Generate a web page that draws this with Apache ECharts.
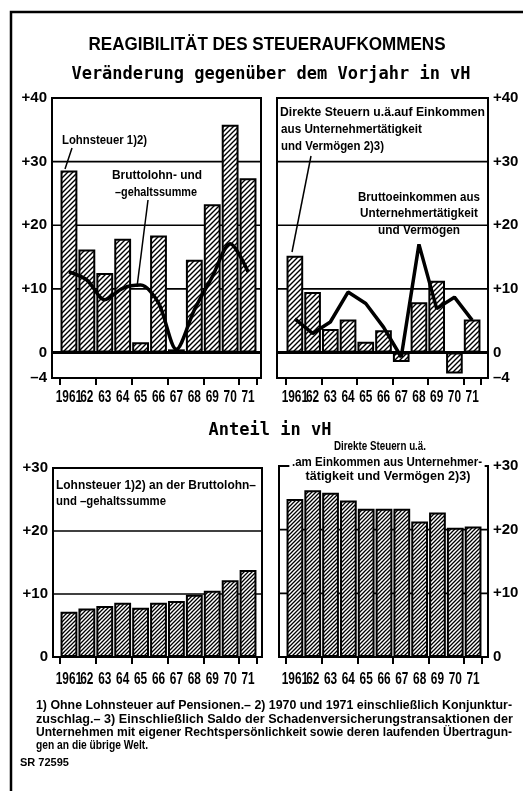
<!DOCTYPE html>
<html>
<head>
<meta charset="utf-8">
<script src="https://cdn.jsdelivr.net/npm/echarts@6/dist/echarts.min.js"></script>
<style>
  html, body { margin: 0; padding: 0; background: #fff; }
  #main { width: 523px; height: 791px; }
</style>
</head>
<body>
<div id="main"></div>
<script>
// Werte (vH)
var years = ['1961', '62', '63', '64', '65', '66', '67', '68', '69', '70', '71'];
var lohnsteuerChange = [28.6, 16.2, 12.5, 17.9, 1.6, 18.4, 0.5, 14.6, 23.3, 35.8, 27.4];
var bruttolohnChange = [12.7, 11.4, 8.3, 10.1, 10.6, 7.8, 0.5, 6.7, 11.9, 17.1, 12.7];
var direkteSteuernChange = [15.2, 9.5, 3.7, 5.2, 1.7, 3.5, -1.5, 7.9, 11.3, -3.3, 5.2];
var bruttoeinkommenChange = [5.3, 3.0, 4.8, 9.5, 7.7, 4.0, -0.7, 17.0, 6.9, 8.7, 5.1];
var lohnsteuerAnteil = [7.2, 7.7, 8.1, 8.6, 7.8, 8.6, 8.9, 9.9, 10.5, 12.2, 13.8];
var direkteSteuernAnteil = [24.8, 26.2, 25.8, 24.6, 23.3, 23.3, 23.3, 21.3, 22.7, 20.3, 20.5];
var changeTicks = [-4, 0, 10, 20, 30, 40];
var shareTicks = [0, 10, 20, 30];
var changeGridLines = [0, 10, 20, 30];
var shareGridLines = [10, 20];

var SANS = "'Liberation Sans', Arial, sans-serif";

// Panels: Rahmen (box) und Kategorienbereich (data)
var panels = [
  { box: [52, 98, 209, 280], data: [60, 197], min: -4, max: 40, ticks: changeTicks, lines: changeGridLines, side: 'left', lab: 20 },
  { box: [277, 98, 211, 280], data: [286, 195], min: -4, max: 40, ticks: changeTicks, lines: changeGridLines, side: 'right', lab: 20 },
  { box: [53, 468, 209, 189], data: [60, 197], min: 0, max: 30, ticks: shareTicks, lines: shareGridLines, side: 'left', lab: 23 },
  { box: [279, 466, 209, 191], data: [286, 196], min: 0, max: 30, ticks: shareTicks, lines: shareGridLines, side: 'right', lab: 23 }
];

function hatch(step, lw) {
  var c = document.createElement('canvas');
  c.width = c.height = step;
  var g = c.getContext('2d');
  g.fillStyle = '#fff';
  g.fillRect(0, 0, step, step);
  g.strokeStyle = '#000';
  g.lineWidth = lw;
  g.beginPath();
  g.moveTo(0, step); g.lineTo(step, 0);
  g.moveTo(-step / 2, step / 2); g.lineTo(step / 2, -step / 2);
  g.moveTo(step / 2, step * 1.5); g.lineTo(step * 1.5, step / 2);
  g.stroke();
  return c;
}
var hatchTop = { image: hatch(5, 1.4), repeat: 'repeat' };
var hatchBottom = { image: hatch(4, 1.3), repeat: 'repeat' };

var grid = [], xAxis = [], yAxis = [], series = [];

panels.forEach(function (p, i) {
  grid.push({ left: p.box[0], top: p.box[1], width: p.box[2], height: p.box[3],
    show: true, borderColor: '#000', borderWidth: 2, backgroundColor: 'transparent' });
  xAxis.push({ gridIndex: i, type: 'value', min: 0, max: 1, show: false });
  yAxis.push({
    gridIndex: i, type: 'value', min: p.min, max: p.max, interval: 2, position: p.side,
    axisLine: { show: false }, axisTick: { show: false }, splitLine: { show: false },
    axisLabel: {
      margin: 5, color: '#000', fontWeight: 'bold', fontSize: 15, fontFamily: SANS,
      formatter: function (v) {
        if (p.ticks.indexOf(v) < 0) return '';
        if (v > 0) return '+' + v;
        if (v < 0) return '\u2013' + Math.abs(v);
        return '0';
      }
    }
  });
  // Gitterlinien
  var gl = p.lines.map(function (v) { return [0, v, v === 0 ? 3 : 1.6]; });
  series.push({
    type: 'custom', xAxisIndex: i, yAxisIndex: i, z: 1, silent: true,
    renderItem: function (params, api) {
      var cs = params.coordSys;
      var y = api.coord([0, api.value(1)])[1];
      return { type: 'line', shape: { x1: cs.x, y1: y, x2: cs.x + cs.width, y2: y },
        style: { stroke: '#000', lineWidth: api.value(2) } };
    },
    data: gl
  });
});

panels.forEach(function (p, i) {
  var k = i + 4;
  grid.push({ left: p.data[0], top: p.box[1], width: p.data[1], height: p.box[3] });
  xAxis.push({
    gridIndex: k, type: 'category', data: years, position: 'bottom',
    axisLine: { show: false, onZero: false },
    axisTick: { show: true, length: 7, lineStyle: { color: '#000', width: 2 } },
    axisLabel: { show: false }
  });
  yAxis.push({ gridIndex: k, type: 'value', min: p.min, max: p.max, show: false, splitLine: { show: false } });
  // schmale Jahresbeschriftung
  series.push({
    type: 'custom', xAxisIndex: k, yAxisIndex: k, z: 3, silent: true,
    renderItem: function (params, api) {
      var pt = api.coord([api.value(0), p.min]);
      return { type: 'text', x: pt[0], y: pt[1] + p.lab, scaleX: 0.74,
        style: { text: years[params.dataIndex], font: 'bold 16px ' + SANS, fill: '#000',
          textAlign: 'center', textVerticalAlign: 'middle' } };
    },
    data: years.map(function (y) { return [y, p.min]; })
  });
});

function bars(idx, data, fill) {
  return {
    type: 'bar', xAxisIndex: idx, yAxisIndex: idx, z: 2, data: data, barCategoryGap: '6%',
    itemStyle: { color: fill, borderColor: '#000', borderWidth: 2 }
  };
}
function line(idx, data, smooth) {
  return {
    type: 'line', xAxisIndex: idx, yAxisIndex: idx, z: 3, data: data, smooth: smooth,
    symbol: 'none', lineStyle: { color: '#000', width: 3.5 }
  };
}
series.push(bars(4, lohnsteuerChange, hatchTop));
series.push(line(4, bruttolohnChange, 0.3));
series.push(bars(5, direkteSteuernChange, hatchTop));
series.push(line(5, bruttoeinkommenChange, false));
series.push(bars(6, lohnsteuerAnteil, hatchBottom));
series.push(bars(7, direkteSteuernAnteil, hatchBottom));

// Text auf Breite stauchen (schmale Schrift des Originals)
var mctx = document.createElement('canvas').getContext('2d');
function txt(x, y, s, size, align, width, extra) {
  var font = 'bold ' + size + 'px ' + SANS;
  mctx.font = font;
  var sx = Math.min(1, width / mctx.measureText(s).width);
  var st = { text: s, font: font, fill: '#000', textAlign: align, textVerticalAlign: 'middle' };
  if (extra) for (var key in extra) st[key] = extra[key];
  return { type: 'text', x: x, y: y, scaleX: sx, z: 100, style: st };
}
function seg(x1, y1, x2, y2, w) {
  return { type: 'line', z: 100, shape: { x1: x1, y1: y1, x2: x2, y2: y2 }, style: { stroke: '#000', lineWidth: w || 1.5 } };
}
var MONO = 'bold 17px "DejaVu Sans Mono", monospace';

var graphic = [
  { type: 'polyline', z: 100, shape: { points: [[11, 791], [11, 12], [523, 12]] }, style: { stroke: '#000', lineWidth: 2.5, fill: null } },
  txt(267, 45, 'REAGIBILITÄT DES STEUERAUFKOMMENS', 19, 'center', 357),
  { type: 'text', x: 271, y: 75, z: 100, style: { text: 'Veränderung gegenüber dem Vorjahr in vH', font: MONO, fill: '#000', textAlign: 'center', textVerticalAlign: 'middle' } },
  { type: 'text', x: 270, y: 431, z: 100, style: { text: 'Anteil in vH', font: MONO, fill: '#000', textAlign: 'center', textVerticalAlign: 'middle' } },
  // oben links
  txt(62, 140, 'Lohnsteuer 1)2)', 13, 'left', 85),
  seg(72, 148, 65, 169),
  txt(157, 175, 'Bruttolohn- und', 13, 'center', 90),
  txt(156, 192, '\u2013gehaltssumme', 13, 'center', 82),
  seg(148, 200, 137, 287),
  // oben rechts
  txt(280, 112, 'Direkte Steuern u.ä.auf Einkommen', 13, 'left', 205),
  txt(281, 129, 'aus Unternehmertätigkeit', 13, 'left', 141),
  txt(281, 146, 'und Vermögen 2)3)', 13, 'left', 103),
  seg(311, 156, 292, 252),
  txt(419, 197, 'Bruttoeinkommen aus', 13, 'center', 122),
  txt(419, 213, 'Unternehmertätigkeit', 13, 'center', 118),
  txt(419, 230, 'und Vermögen', 13, 'center', 82),
  // unten links
  txt(56, 485, 'Lohnsteuer 1)2) an der Bruttolohn\u2013', 13, 'left', 200),
  txt(56, 501, 'und \u2013gehaltssumme', 13, 'left', 110),
  // unten rechts
  txt(380, 446, 'Direkte Steuern u.ä.', 13, 'center', 92),
  txt(387, 462, '.am Einkommen aus Unternehmer-', 13, 'center', 190, { backgroundColor: '#fff', padding: [2, 3] }),
  txt(388, 476, 'tätigkeit und Vermögen 2)3)', 13, 'center', 165),
  // Fussnoten
  txt(36, 705, '1) Ohne Lohnsteuer auf Pensionen.\u2013 2) 1970 und 1971 einschließlich Konjunktur-', 13, 'left', 476),
  txt(36, 719, 'zuschlag.\u2013 3) Einschließlich Saldo der Schadenversicherungstransaktionen der', 13, 'left', 477),
  txt(36, 732, 'Unternehmen mit eigener Rechtspersönlichkeit sowie deren laufenden Übertragun-', 13, 'left', 476),
  txt(36, 745, 'gen an die übrige Welt.', 13, 'left', 112),
  txt(20, 763, 'SR 72595', 11, 'left', 55)
];

var chart = echarts.init(document.getElementById('main'), null, { renderer: 'canvas' });
chart.setOption({
  animation: false,
  backgroundColor: '#fff',
  grid: grid,
  xAxis: xAxis,
  yAxis: yAxis,
  series: series,
  graphic: graphic
});
</script>
</body>
</html>
